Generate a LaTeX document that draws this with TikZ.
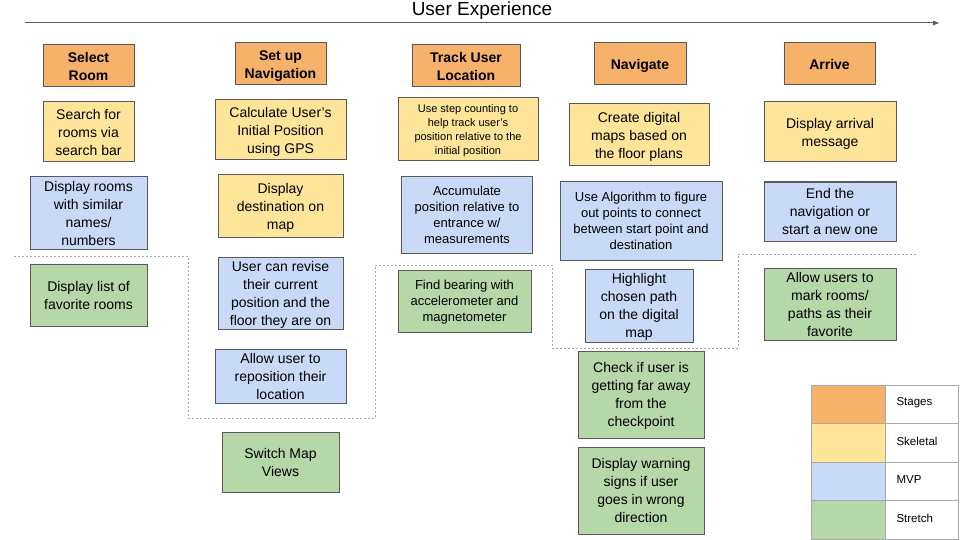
\documentclass[tikz,border=0pt]{standalone}
\usepackage{fontspec}
\setmainfont{Liberation Sans}
\usetikzlibrary{arrows.meta}
\definecolor{stageC}{HTML}{F6B26B}
\definecolor{skelC}{HTML}{FFE599}
\definecolor{mvpC}{HTML}{C9DAF8}
\definecolor{stretchC}{HTML}{B6D7A8}
\definecolor{edgeC}{HTML}{595959}
\definecolor{dotC}{HTML}{A8A8A8}
% lines of a card: set in a tabular, moved down a little
\newcommand{\crd}[1]{\raisebox{-1.5pt}[\height][\depth]{\begin{tabular}{@{}c@{}}#1\end{tabular}}}
\begin{document}
\begin{tikzpicture}[x=1pt, y=-1pt,
    card/.style={draw=edgeC, line width=1pt, inner sep=0pt,
                 font=\fontsize{14}{18}\selectfont},
    stagebox/.style={card, fill=stageC, font=\fontsize{14}{18}\selectfont\bfseries,
                     minimum width=91, minimum height=42},
    skelbox/.style={card, fill=skelC},
    mvpbox/.style={card, fill=mvpC},
    stretchbox/.style={card, fill=stretchC},
    smalltxt/.style={font=\fontsize{13}{16}\selectfont},
    tinytxt/.style={font=\fontsize{11}{14}\selectfont},
    wh/.style 2 args={minimum width=#1, minimum height=#2},
    legendline/.style={draw=dotC, line width=1pt},
  ]
  % Define parameters
  \def\rowH{38.5}     % height of one legend row
  \def\legX{811}      % left edge of the legend
  \def\legY{385}      % top edge of the legend

  \useasboundingbox (0,0) rectangle (960,540);

  %% Title and time line
  \node[font=\fontsize{19}{22}\selectfont] (title) at (482,11) {\strut User Experience};
  \coordinate (lineStart) at (25,23);
  \coordinate (lineEnd) at (939,23);
  \draw[edgeC, line width=1pt, -{Triangle[length=6pt,width=4.5pt]}] (lineStart) -- (lineEnd);

  %% Stages
  \node[stagebox] (selRoom) at (88.5,66) {\crd{Select\\Room}};
  \node[stagebox] (setNav) at (280.5,64) {\crd{Set up\\Navigation}};
  \node[stagebox, wh={108}{42}] (trackLoc) at (466,66) {\crd{Track User\\Location}};
  \node[stagebox, wh={92}{42}] (navigate) at (640,64) {\crd{Navigate}};
  \node[stagebox] (arrive) at (829.5,64) {\crd{Arrive}};

  %% Column 1: Select Room
  \node[skelbox, wh={91}{60}] (search) at (88.5,132) {\crd{Search for\\rooms via\\search bar}};
  \node[mvpbox, wh={117}{72}] (similar) at (88.5,213) {\crd{Display rooms\\with similar\\names/\\numbers}};
  \node[stretchbox, wh={117}{62}] (favList) at (88.5,295) {\crd{Display list of\\favorite rooms}};

  %% Column 2: Set up Navigation
  \node[skelbox, wh={131}{60}] (gps) at (280.5,130) {\crd{Calculate User’s\\Initial Position\\using GPS}};
  \node[skelbox, wh={125}{62}] (dest) at (280.5,206) {\crd{Display\\destination on\\map}};
  \node[mvpbox, wh={125}{72}] (revise) at (280.5,293) {\crd{User can revise\\their current\\position and the\\floor they are on}};
  \node[mvpbox, wh={131}{54}] (repos) at (280.5,376) {\crd{Allow user to\\reposition their\\location}};
  \node[stretchbox, wh={117}{60}] (views) at (280.5,462) {\crd{Switch Map\\Views}};

  %% Column 3: Track User Location
  \node[skelbox, tinytxt, wh={140}{63}] (steps) at (468,129.5) {\crd{Use step counting to\\help track user’s\\position relative to the\\initial position}};
  \node[mvpbox, smalltxt, wh={131}{77}] (accum) at (467,215) {\crd{Accumulate\\position relative to\\entrance w/\\measurements}};
  \node[stretchbox, smalltxt, wh={133}{62}] (bearing) at (464.5,301) {\crd{Find bearing with\\accelerometer and\\magnetometer}};

  %% Column 4: Navigate
  \node[skelbox, wh={140}{62}] (maps) at (639,135) {\crd{Create digital\\maps based on\\the floor plans}};
  \node[mvpbox, smalltxt, wh={162}{78}] (algo) at (641,221) {\crd{Use Algorithm to figure\\out points to connect\\between start point and\\destination}};
  \node[mvpbox, wh={108}{73}] (highlight) at (639,305.5) {\crd{Highlight\\chosen path\\on the digital\\map}};
  \node[stretchbox, wh={126}{87}] (checkpt) at (641,394.5) {\crd{Check if user is\\getting far away\\from the\\checkpoint}};
  \node[stretchbox, wh={126}{87}] (warning) at (641,490.5) {\crd{Display warning\\signs if user\\goes in wrong\\direction}};

  %% Column 5: Arrive
  \node[skelbox, wh={132}{60}] (arrMsg) at (830,132) {\crd{Display arrival\\message}};
  \node[mvpbox, wh={132}{59}] (endNav) at (830,211.5) {\crd{End the\\navigation or\\start a new one}};
  \node[stretchbox, wh={132}{72}] (markFav) at (830,304) {\crd{Allow users to\\mark rooms/\\paths as their\\favorite}};

  %% Dotted line between MVP and stretch goals
  \draw[dotC, line width=0.8pt, dash pattern=on 2pt off 2pt]
    (14,256) -- (188,256) -- (188,418) -- (375,418) -- (375,265)
    -- (552,265) -- (552,348) -- (738,348) -- (738,254) -- (918,254);

  %% Legend
  \foreach \col/\lab [count=\i from 0] in {stageC/Stages, skelC/Skeletal, mvpC/MVP, stretchC/Stretch} {
      \draw[legendline, fill=\col] (\legX, \legY + \i*\rowH) rectangle ++(74, \rowH);
      \draw[legendline] (\legX + 74, \legY + \i*\rowH) rectangle ++(73, \rowH);
      \node[anchor=west, font=\fontsize{11.5}{13}\selectfont] (leg\i) at (\legX + 82, \legY + 18 + \i*\rowH) {\lab};
  }
\end{tikzpicture}
\end{document}
